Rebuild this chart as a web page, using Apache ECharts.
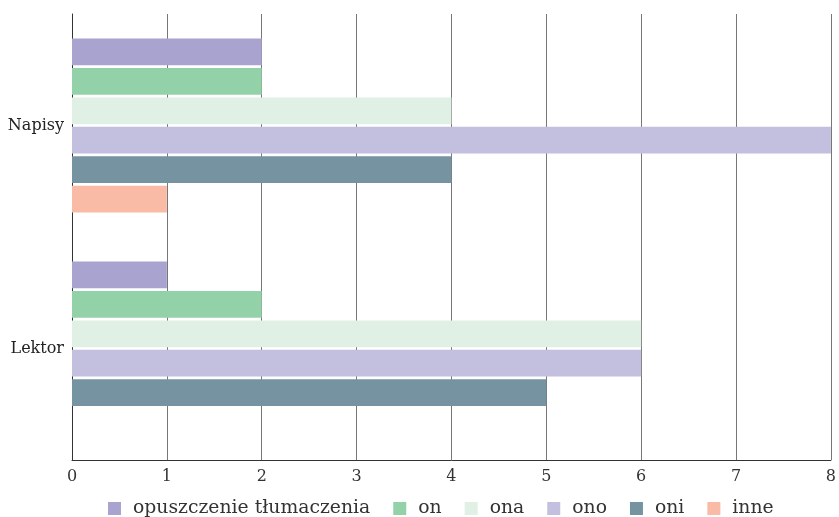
<!DOCTYPE html>
<html><head><meta charset="utf-8">
<script src="https://cdn.jsdelivr.net/npm/echarts@6/dist/echarts.min.js"></script>
<style>html,body{margin:0;padding:0;background:#fff}#c{width:839px;height:517px}</style>
</head><body><div id="c"></div>
<script>
var categories = ['Napisy', 'Lektor'];
var seriesNames = ['opuszczenie tłumaczenia', 'on', 'ona', 'ono', 'oni', 'inne'];
var opuszczenie = [2, 1];
var on = [2, 2];
var ona = [4, 6];
var ono = [8, 6];
var oni = [4, 5];
var inne = [1, 0];
var xTicks = [0, 1, 2, 3, 4, 5, 6, 7, 8];
var colors = ['#a9a3cf', '#93d1a9', '#e0f0e5', '#c3bfdf', '#7693a1', '#f9bba6'];
var values = [opuszczenie, on, ona, ono, oni, inne];
var font = 'DejaVu Serif';
var chart = echarts.init(document.getElementById('c'));
chart.setOption({
  animation: false,
  textStyle: {fontFamily: font},
  color: colors,
  grid: {left: 72, right: 5, top: 14, bottom: 57, containLabel: false},
  legend: {
    top: 494, left: 103, icon: 'rect', itemWidth: 13, itemHeight: 13, itemGap: 23,
    textStyle: {fontFamily: font, fontSize: 18.8, color: '#333', padding: [0, 0, 0, 7]},
    data: seriesNames
  },
  xAxis: {
    type: 'value', min: xTicks[0], max: xTicks[xTicks.length - 1], interval: 1,
    axisLine: {show: true, lineStyle: {color: '#333'}},
    axisTick: {show: false},
    axisLabel: {fontFamily: font, fontSize: 16, color: '#333', margin: 9},
    splitLine: {show: true, lineStyle: {color: '#777', width: 1}}
  },
  yAxis: {
    type: 'category', data: categories, inverse: true,
    axisLine: {show: true, lineStyle: {color: '#333'}},
    axisTick: {show: false},
    axisLabel: {fontFamily: font, fontSize: 16, color: '#222', margin: 8}
  },
  series: seriesNames.map(function (n, i) {
    return {name: n, type: 'bar', data: values[i], barGap: '10%', barCategoryGap: '22%'};
  })
});
</script></body></html>
